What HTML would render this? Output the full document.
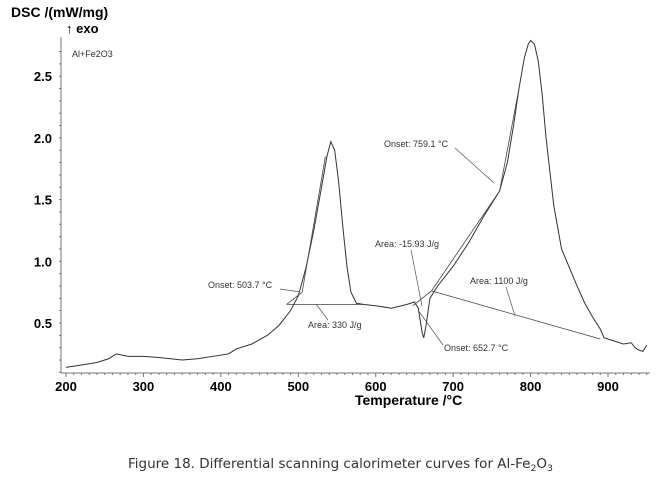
<!DOCTYPE html>
<html><head><meta charset="utf-8"><style>
body{margin:0;background:#fff;}
svg{display:block;font-family:"Liberation Sans",Arial,sans-serif;}
</style></head><body>
<svg id="chart" width="659" height="478" viewBox="0 0 659 478">
<g id="axes"></g>
<g id="marks"></g>
<g id="labels"></g>
<text x="11" y="17" font-size="14" font-weight="bold">DSC /(mW/mg)</text>
<text x="66" y="33" font-size="13" font-weight="bold">↑ exo</text>
<text x="72" y="57" font-size="9" fill="#333">Al+Fe2O3</text>
<text x="355" y="405" font-size="14" font-weight="bold">Temperature /°C</text>
<text x="128" y="468" font-size="13" fill="#333" textLength="425" lengthAdjust="spacingAndGlyphs" font-family="'DejaVu Sans',sans-serif">Figure 18. Differential scanning calorimeter curves for Al-Fe<tspan font-size="9" dy="3">2</tspan><tspan dy="-3">O</tspan><tspan font-size="9" dy="3">3</tspan></text>
</svg>
<script>
const temps=[200,220,240,255,265,280,300,320,350,370,390,410,420,440,460,475,490,500,510,520,530,537,542,547,552,558,563,568,575,585,600,620,640,650,655,660,662,665,670,680,700,720,740,760,770,778,785,792,797,800,805,810,815,820,830,840,850,860,870,880,890,895,910,920,930,935,940,945,950];
const dsc=[0.14,0.16,0.18,0.21,0.25,0.23,0.23,0.22,0.20,0.21,0.23,0.25,0.29,0.33,0.40,0.48,0.60,0.72,0.95,1.25,1.6,1.85,1.97,1.90,1.65,1.25,0.95,0.75,0.66,0.65,0.64,0.62,0.65,0.67,0.62,0.42,0.38,0.48,0.70,0.80,0.96,1.15,1.37,1.57,1.80,2.10,2.40,2.65,2.76,2.79,2.76,2.62,2.35,2.00,1.45,1.10,0.95,0.80,0.66,0.55,0.45,0.38,0.35,0.33,0.34,0.30,0.28,0.27,0.32];
const xTicks=[200,300,400,500,600,700,800,900];
const yTicks=[0.5,1.0,1.5,2.0,2.5];
const xs=t=>66+(t-200)*0.7743;
const ys=v=>323-(v-0.5)*123.4;
const NS="http://www.w3.org/2000/svg";
function mk(p,tag,at){const e=document.createElementNS(NS,tag);for(const k in at)e.setAttribute(k,at[k]);p.appendChild(e);return e;}
const axes=document.getElementById('axes'),marks=document.getElementById('marks'),labels=document.getElementById('labels');
let a=mk(axes,'line',{x1:61,y1:37,x2:61,y2:373,stroke:'#777','stroke-width':1});

a=mk(axes,'line',{x1:61,y1:373,x2:650,y2:373,stroke:'#777','stroke-width':1});

for(let t=200;t<=950;t+=10){mk(axes,'line',{x1:xs(t),y1:373,x2:xs(t),y2:t%100?375:377,stroke:'#777'});}
for(let v=0.1;v<=2.8;v+=0.1){mk(axes,'line',{x1:59,y1:ys(v),x2:61,y2:ys(v),stroke:'#777'});}
xTicks.forEach(t=>{const e=mk(labels,'text',{x:xs(t),y:391,'font-size':13,'font-weight':'bold','text-anchor':'middle'});e.textContent=t;
});
yTicks.forEach(v=>{const e=mk(labels,'text',{x:52,y:ys(v)+5,'font-size':13,'font-weight':'bold','text-anchor':'end'});e.textContent=v.toFixed(1);
});
const c=mk(marks,'polyline',{points:temps.map((t,i)=>xs(t)+','+ys(dsc[i])).join(' '),fill:'none',stroke:'#333','stroke-width':1});

function L(t1,v1,t2,v2,n){const e=mk(marks,'line',{x1:xs(t1),y1:ys(v1),x2:xs(t2),y2:ys(v2),stroke:'#444','stroke-width':0.8});}
L(485,0.65,585,0.65,'baseline-peak1');
L(485,0.65,505,0.75,'onset-tangent-1a');
L(505,0.75,535,1.85,'onset-tangent-1b');
L(672,0.76,890,0.37,'baseline-peak2');
L(672,0.76,760,1.57,'onset-tangent-2a');
L(760,1.57,785,2.4,'onset-tangent-2b');
L(648,0.64,672,0.76,'baseline-dip');
function T(x,y,s,n){const e=mk(labels,'text',{x:x,y:y,'font-size':9,fill:'#333'});e.textContent=s;}
T(208,288,'Onset: 503.7 °C','onset-label-1');
T(308,328,'Area: 330 J/g','area-label-1');
T(375,247,'Area: -15.93 J/g','area-label-dip');
T(470,284,'Area: 1100 J/g','area-label-2');
T(444,351,'Onset: 652.7 °C','onset-label-dip');
T(384,147,'Onset: 759.1 °C','onset-label-2');
function P(x1,y1,x2,y2){const e=mk(labels,'line',{x1,y1,x2,y2,stroke:'#555','stroke-width':0.7});}
P(280,289,300,292);P(328,320,316,304);P(411,250,422,306);P(443,345,418,310);P(506,287,515,316);P(455,148,494,183);
</script>
</body></html>
